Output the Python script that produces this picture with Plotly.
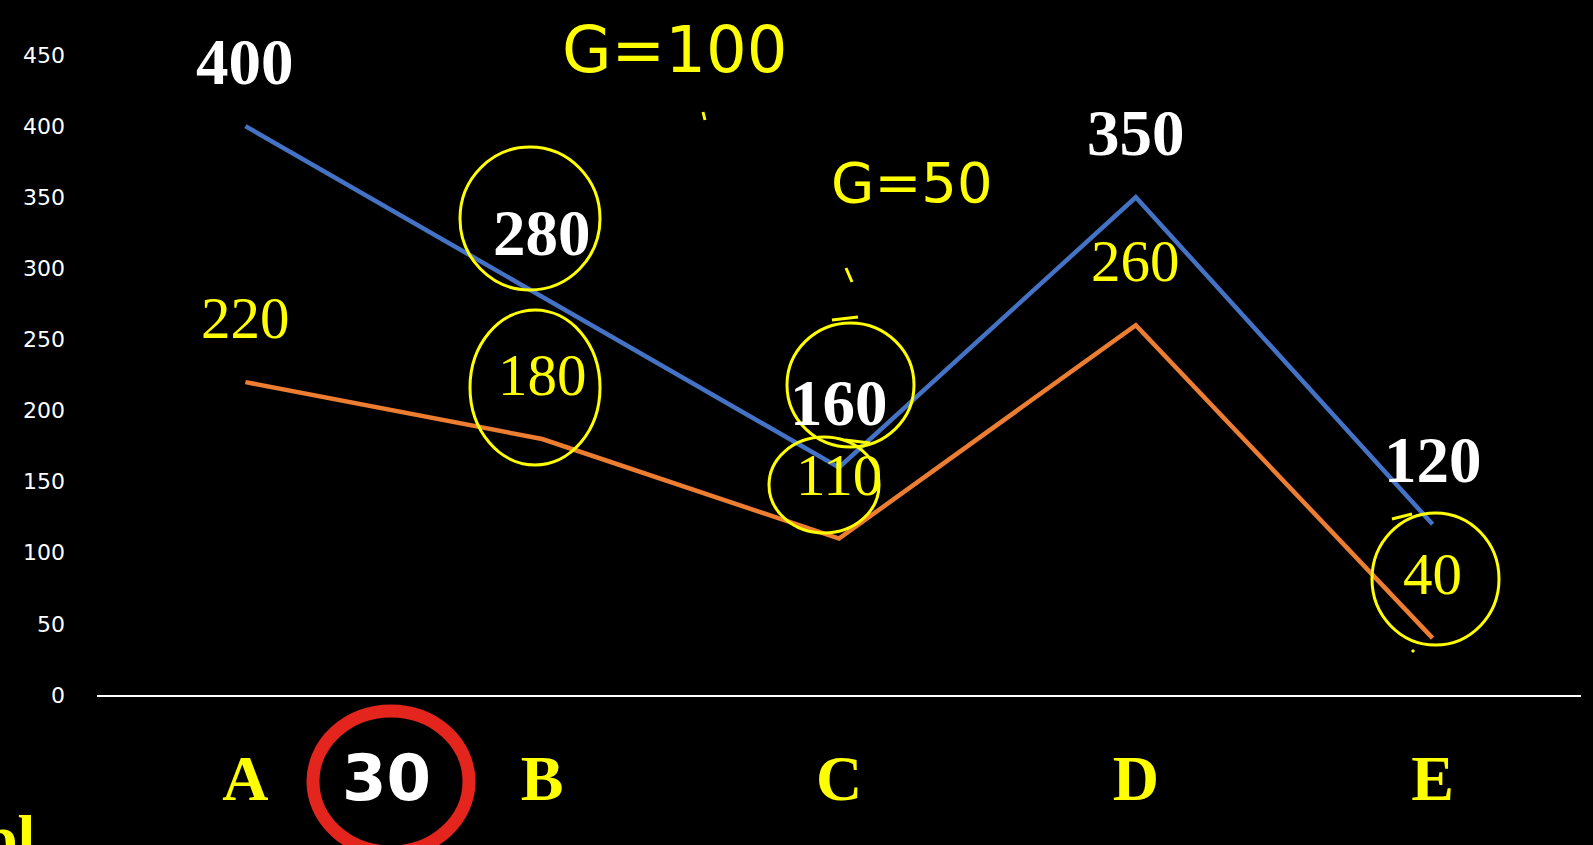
import plotly.graph_objects as go

categories = ["A", "B", "C", "D", "E"]
blue_values = [400, 280, 160, 350, 120]
orange_values = [220, 180, 110, 260, 40]
y_ticks = [0, 50, 100, 150, 200, 250, 300, 350, 400, 450]

W, H = 1593, 845
L, R, T, B = 97, 12, 55, 150
pw, ph = W - L - R, H - T - B


def px(x, y):
    # pixel position of the page -> paper coords
    return (x - L) / pw, (H - B - y) / ph


fig = go.Figure()
fig.add_trace(go.Scatter(x=categories, y=blue_values, mode="lines",
                         line=dict(color="#4472C4", width=4.5), hoverinfo="skip"))
fig.add_trace(go.Scatter(x=categories, y=orange_values, mode="lines",
                         line=dict(color="#ED7D31", width=4.5), hoverinfo="skip"))

annotations = []
for c, v in zip(categories, blue_values):
    annotations.append(dict(x=c, y=v, text="<b>%d</b>" % v, showarrow=False, yshift=64,
                            font=dict(family="Liberation Serif", size=65, color="white"),
                            xanchor="center", yanchor="middle"))
for c, v in zip(categories, orange_values):
    annotations.append(dict(x=c, y=v, text=str(v), showarrow=False, yshift=64,
                            font=dict(family="Liberation Serif", size=59, color="#FFFF00"),
                            xanchor="center", yanchor="middle"))

# handwritten notes
for txt, (x, y), size in [("G=100", (674, 50), 64), ("G=50", (912, 182), 56)]:
    ax, ay = px(x, y)
    annotations.append(dict(x=ax, y=ay, xref="paper", yref="paper", text=txt, showarrow=False,
                            font=dict(family="DejaVu Sans", size=size, color="#FFFF00"),
                            xanchor="center", yanchor="middle"))

# "30" badge
bx, by = px(386, 778)
annotations.append(dict(x=bx, y=by, xref="paper", yref="paper", text="<b>30</b>", showarrow=False,
                        font=dict(family="DejaVu Sans", size=64, color="white"),
                        xanchor="center", yanchor="middle"))
# cut-off word at bottom left
qx, qy = px(-20, 800)
annotations.append(dict(x=qx, y=qy, xref="paper", yref="paper", text="<b>pl</b>", showarrow=False,
                        font=dict(family="Liberation Serif", size=64, color="#FFFF00"),
                        xanchor="left", yanchor="top"))

shapes = []
for x0, y0, x1, y1 in [(460, 147, 600, 290), (470, 310, 600, 465), (787, 323, 914, 447),
                       (769, 437, 879, 533), (1372, 513, 1499, 645)]:
    a0, b1 = px(x0, y0)
    a1, b0 = px(x1, y1)
    shapes.append(dict(type="circle", xref="paper", yref="paper", x0=a0, y0=b0, x1=a1, y1=b1,
                       line=dict(color="#FFFF00", width=3)))
a0, b1 = px(313, 711)
a1, b0 = px(469, 852)
shapes.append(dict(type="circle", xref="paper", yref="paper", x0=a0, y0=b0, x1=a1, y1=b1,
                   fillcolor="black", line=dict(color="#E3251D", width=13), layer="below"))
# small pen ticks
for x0, y0, x1, y1 in [(703, 112, 705, 120), (846, 268, 852, 282), (832, 320, 858, 317),
                       (845, 440, 870, 443), (1392, 519, 1412, 514), (1412, 650, 1414, 652)]:
    a0, b0 = px(x0, y0)
    a1, b1 = px(x1, y1)
    shapes.append(dict(type="line", xref="paper", yref="paper", x0=a0, y0=b0, x1=a1, y1=b1,
                       line=dict(color="#FFFF00", width=3)))

fig.update_layout(
    width=W, height=H,
    margin=dict(l=L, r=R, t=T, b=B),
    paper_bgcolor="black", plot_bgcolor="black",
    showlegend=False,
    annotations=annotations, shapes=shapes,
    xaxis=dict(type="category", range=[-0.5, 4.5], showgrid=False, zeroline=False,
               showline=True, linecolor="white", linewidth=1.5,
               tickfont=dict(family="Liberation Serif", size=64, color="#FFFF00"),
               ticklabelstandoff=26, ticks=""),
    yaxis=dict(range=[0, 450], tickvals=y_ticks, showgrid=False, zeroline=False,
               showline=False, tickfont=dict(family="DejaVu Sans", size=22, color="white"),
               ticklabelstandoff=31, ticks=""),
)
fig.update_xaxes(tickvals=categories, ticktext=["<b>%s</b>" % c for c in categories])

fig.write_html("out.html", config={"displayModeBar": False},
               post_script="document.body.style.margin='0';"
                           "document.body.style.background='black';")
